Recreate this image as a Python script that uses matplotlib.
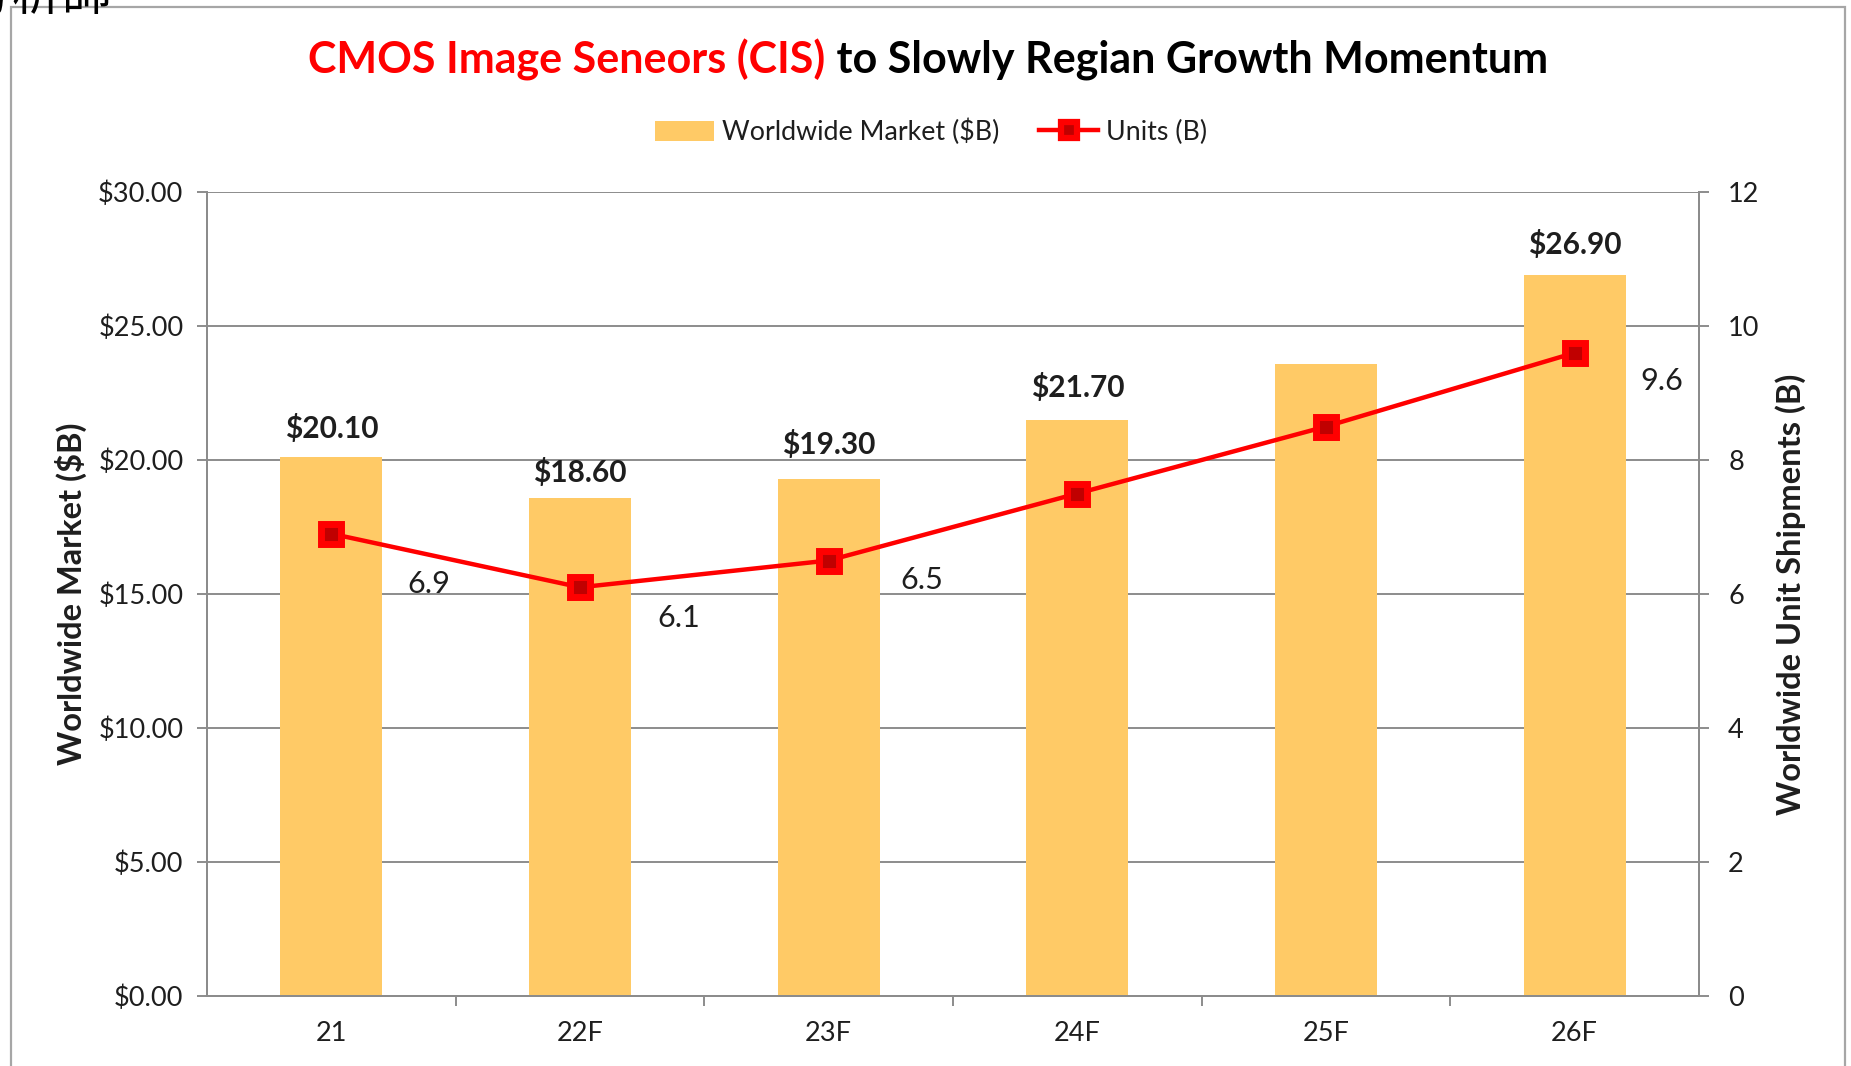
import matplotlib
matplotlib.use("Agg")
import matplotlib.pyplot as plt
from matplotlib.patches import Rectangle
from matplotlib.lines import Line2D
from matplotlib.patches import Patch
from matplotlib.ticker import FixedLocator, FuncFormatter

plt.rcParams['font.family'] = ['Lato', 'Noto Sans CJK TC', 'DejaVu Sans']

# ---------------- data ----------------
categories = ["21", "22F", "23F", "24F", "25F", "26F"]
market = [20.1, 18.6, 19.3, 21.5, 23.6, 26.9]           # $B (bars)
market_labels = ["$20.10", "$18.60", "$19.30", "$21.70", "", "$26.90"]
units = [6.9, 6.1, 6.5, 7.5, 8.5, 9.6]                   # B units (line)
unit_labels = ["6.9", "6.1", "6.5", "", "", "9.6"]
left_ticks = [0, 5, 10, 15, 20, 25, 30]
right_ticks = [0, 2, 4, 6, 8, 10, 12]

title_red = "CMOS Image Seneors (CIS)"
title_black = " to Slowly Regian Growth Momentum"
bar_name = "Worldwide Market ($B)"
line_name = "Units (B)"
ylabel_left = "Worldwide Market ($B)"
ylabel_right = "Worldwide Unit Shipments (B)"
corner_text = "分析師"

# ---------------- style ----------------
W, H = 1851, 1066
BAR_COLOR = "#FFCA66"
RED = "#FF0000"
DARK_RED = "#C00000"
GRID = "#8C8C8C"
TXT = "#1E1E1E"
unit_label_offsets = [(70, -36), (71, -22), (67, -14), (0, 0), (0, 0), (63, -20)]  # points
bar_label_offsets = [21, 18, 25, 23, 0, 22]  # points above bar top

fig = plt.figure(figsize=(W / 100, H / 100), dpi=100)
fig.patch.set_facecolor("white")

# outer frame (bottom runs off the canvas)
fig.add_artist(Rectangle((11 / W, -0.05), (1845 - 11) / W, 1.05 - 7 / H,
                         transform=fig.transFigure, fill=False,
                         edgecolor="#A6A6A6", lw=1.6))

# clipped corner text at top-left
fig.text(112 / W, 1 - 10 / H, corner_text, ha="right", va="baseline",
         fontsize=36, color="black", family=['Noto Sans CJK TC', 'DejaVu Sans'])

ax = fig.add_axes([207 / W, (H - 996) / H, (1699 - 207) / W, (996 - 192) / H])
ax2 = ax.twinx()

x = list(range(len(categories)))

ax.set_axisbelow(True)
ax.yaxis.grid(True, color=GRID, lw=1.4)
ax.bar(x, market, width=0.41, color=BAR_COLOR, zorder=2)
ax.set_xlim(-0.5, len(categories) - 0.5)
ax.set_ylim(0, 30)
ax.yaxis.set_major_locator(FixedLocator(left_ticks))
ax.yaxis.set_major_formatter(FuncFormatter(lambda v, p: f"${v:.2f}"))

for xi, v, lab, off in zip(x, market, market_labels, bar_label_offsets):
    if lab:
        ax.annotate(lab, (xi, v), xytext=(0, off), textcoords="offset points",
                    ha="center", va="center", fontsize=21.5, fontweight="bold",
                    color=TXT)

# x ticks: labels at centers, small tick marks at category boundaries
ax.set_xticks(x)
ax.set_xticklabels(categories)
ax.tick_params(axis="x", which="major", length=0, pad=18, labelsize=19.5, labelcolor=TXT)
ax.set_xticks([i + 0.5 for i in x[:-1]], minor=True)
ax.tick_params(axis="x", which="minor", length=7, width=1.4, color=GRID, direction="out")
ax.tick_params(axis="y", length=7, width=1.4, color=GRID, pad=10, labelsize=19.5, labelcolor=TXT)

for s in ["top"]:
    ax.spines[s].set_visible(False)
    ax2.spines[s].set_visible(False)
for s in ["left", "bottom", "right"]:
    ax.spines[s].set_color(GRID)
    ax.spines[s].set_linewidth(1.4)
    ax2.spines[s].set_color(GRID)
    ax2.spines[s].set_linewidth(1.4)

# line on secondary axis
ax2.plot(x, units, color=RED, lw=3.2, marker="s", markersize=15,
         markerfacecolor=DARK_RED, markeredgecolor=RED, markeredgewidth=5,
         zorder=3)
ax2.set_ylim(0, 12)
ax2.yaxis.set_major_locator(FixedLocator(right_ticks))
ax2.tick_params(axis="y", length=7, width=1.4, color=GRID, pad=14, labelsize=19.5, labelcolor=TXT)

for xi, v, lab, off in zip(x, units, unit_labels, unit_label_offsets):
    if lab:
        ax2.annotate(lab, (xi, v), xytext=off, textcoords="offset points",
                     ha="center", va="center", fontsize=22, color=TXT)

# axis titles
fig.text(71 / W, 1 - 594 / H, ylabel_left, rotation=90, ha="center", va="center",
         fontsize=23.5, fontweight="bold", color=TXT)
fig.text(1791 / W, 1 - 594 / H, ylabel_right, rotation=90, ha="center", va="center",
         fontsize=23.5, fontweight="bold", color=TXT)

# legend
handles = [Patch(facecolor=BAR_COLOR, edgecolor="none"),
           Line2D([0], [0], color=RED, lw=3.2, marker="s", markersize=12,
                  markerfacecolor=DARK_RED, markeredgecolor=RED, markeredgewidth=4.5)]
fig.legend(handles, [bar_name, line_name], loc="center", bbox_to_anchor=(931 / W, 1 - 132 / H),
           ncol=2, frameon=False, fontsize=19.3, handlelength=2.2, handleheight=0.8,
           handletextpad=0.3, columnspacing=1.5, labelcolor=TXT)

# two-colour title
renderer = fig.canvas.get_renderer()
t1 = fig.text(0, 1 - 60 / H, title_red, color=RED, fontsize=31, fontweight="bold",
              ha="left", va="center")
t2 = fig.text(0, 1 - 60 / H, title_black, color="black", fontsize=31, fontweight="bold",
              ha="left", va="center")
w1 = t1.get_window_extent(renderer).width
w2 = t2.get_window_extent(renderer).width
start = 928 - (w1 + w2) / 2
t1.set_x(start / W)
t2.set_x((start + w1) / W)

fig.savefig("out.png", dpi=100, facecolor="white")
